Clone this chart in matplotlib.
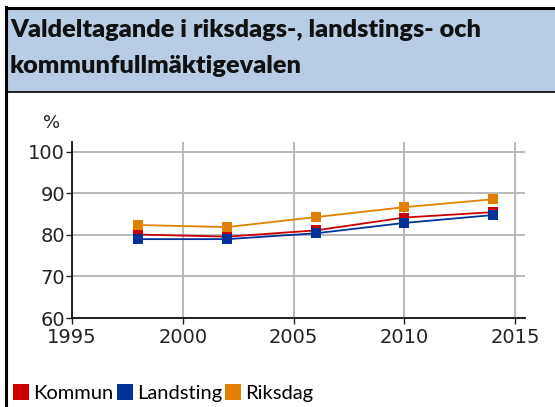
import matplotlib
matplotlib.use("Agg")
import matplotlib.pyplot as plt
from matplotlib.patches import Rectangle
from matplotlib.lines import Line2D

years = [1998, 2002, 2006, 2010, 2014]
kommun = [80.1, 79.6, 81.1, 84.2, 85.5]
landsting = [79.0, 79.0, 80.4, 82.9, 84.8]
riksdag = [82.4, 81.9, 84.3, 86.7, 88.6]
series_names = ["Kommun", "Landsting", "Riksdag"]
colors = ["#CC0000", "#003399", "#E08000"]
xticks = [1995, 2000, 2005, 2010, 2015]
yticks = [60, 70, 80, 90, 100]
title_lines = ["Valdeltagande i riksdags-, landstings- och", "kommunfullmäktigevalen"]

W, H = 555, 407
fig = plt.figure(figsize=(W / 100, H / 100), dpi=100)

def fx(px):
    return px / W

def fy(py):
    return 1 - py / H

# title band
fig.patches.append(Rectangle((fx(6), fy(92)), fx(555) - fx(6), fy(8) - fy(92),
                             transform=fig.transFigure, facecolor="#B8CCE4",
                             edgecolor="none", zorder=0))
fig.add_artist(Line2D([fx(6), 1], [fy(8), fy(8)], color="black", lw=2.2))
fig.add_artist(Line2D([fx(6), 1], [fy(92), fy(92)], color="black", lw=1.2))
fig.add_artist(Line2D([fx(6), fx(6)], [fy(7), 0], color="black", lw=2.2))

for txt, base in zip(title_lines, [37, 73]):
    fig.text(fx(10), fy(base), txt, fontsize=18.2, fontweight="heavy",
             family="Lato", color="#111111", va="baseline", ha="left")

# axes
ax = fig.add_axes([fx(72), fy(318), fx(525) - fx(72), fy(142) - fy(318)])
for vals, c in zip([kommun, landsting, riksdag], colors):
    ax.plot(years, vals, color=c, lw=1.3, marker="s", markersize=7.2,
            markeredgewidth=0, zorder=3)

ax.set_xlim(1995, 2015.45)
ax.set_ylim(60, 102.4)
ax.set_xticks(xticks)
ax.set_yticks(yticks)
ax.grid(True, color="#B4B4B4", lw=1.3)
ax.set_axisbelow(True)
for s in ["top", "right"]:
    ax.spines[s].set_visible(False)
for s in ["left", "bottom"]:
    ax.spines[s].set_color("#111111")
    ax.spines[s].set_linewidth(1.3)
ax.tick_params(axis="both", labelsize=14, colors="#222222", length=4,
               width=1.0)
ax.tick_params(axis="x", pad=3)
ax.tick_params(axis="y", pad=1)
for lbl in ax.get_xticklabels() + ax.get_yticklabels():
    lbl.set_family("DejaVu Sans")
fig.text(fx(52), fy(128), "%", fontsize=13, color="#222222", ha="center",
         va="baseline")

handles = [Line2D([], [], ls="none", marker="s", markersize=12, color=c,
                  markeredgewidth=0) for c in colors]
leg = fig.legend(handles, series_names, loc="lower left",
                 bbox_to_anchor=(fx(1), fy(414)), ncol=3, frameon=False,
                 prop={"family": "Lato", "size": 14.5}, handlelength=0.8,
                 handletextpad=0.2, columnspacing=0.15, borderaxespad=0.2)

fig.savefig("out.png", dpi=100)
